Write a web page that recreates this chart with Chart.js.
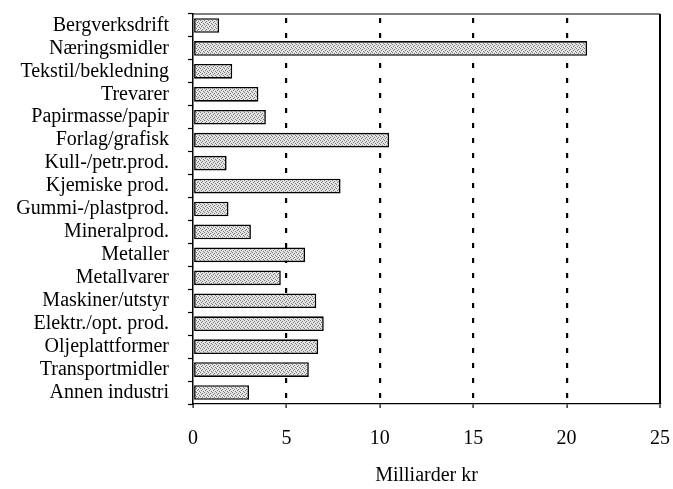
<!DOCTYPE html>
<html>
<head>
<meta charset="utf-8">
<script src="https://cdn.jsdelivr.net/npm/chart.js@4/dist/chart.umd.min.js"></script>
<style>
html,body{margin:0;padding:0;background:#fff;}
canvas{display:block;}
</style>
</head>
<body>
<canvas id="c" width="673" height="489"></canvas>
<script>
const categories = ["Bergverksdrift","Næringsmidler","Tekstil/bekledning","Trevarer","Papirmasse/papir","Forlag/grafisk","Kull-/petr.prod.","Kjemiske prod.","Gummi-/plastprod.","Mineralprod.","Metaller","Metallvarer","Maskiner/utstyr","Elektr./opt. prod.","Oljeplattformer","Transportmidler","Annen industri"];
const values = [1.4,21.1,2.1,3.5,3.9,10.5,1.8,7.9,1.9,3.1,6.0,4.7,6.6,7.0,6.7,6.2,3.0];
const xTicks = [0,5,10,15,20,25];
const axisTitle = "Milliarder kr";

function stipple(){
  const p = document.createElement('canvas');
  p.width = 4; p.height = 4;
  const g = p.getContext('2d');
  g.fillStyle = '#e4e4e4'; g.fillRect(0,0,4,4);
  g.fillStyle = '#7a7a7a';
  [[0,0],[2,1],[1,2],[3,3]].forEach(([x,y])=>g.fillRect(x,y,1,1));
  return g.createPattern(p,'repeat');
}
const FONT = "'Liberation Serif', 'Times New Roman', serif";

function noPad(s){ s.paddingLeft = 0; s.paddingRight = 0; s.paddingTop = 0; s.paddingBottom = 0; }

const frame = {
  id:'frame',
  afterDraw(chart){
    const {ctx, chartArea:a} = chart;
    ctx.save();
    ctx.strokeStyle = '#000';
    ctx.lineWidth = 1.2;
    ctx.beginPath();
    ctx.moveTo(a.left, a.top); ctx.lineTo(a.right, a.top);
    ctx.stroke();
    ctx.restore();
  }
};

new Chart(document.getElementById('c'), {
  type:'bar',
  data:{
    labels: categories,
    datasets:[{
      data: values,
      backgroundColor: stipple(),
      borderColor:'#000',
      borderWidth:1.6,
      borderSkipped:false,
      categoryPercentage:1,
      barPercentage:0.64
    }]
  },
  options:{
    indexAxis:'y',
    responsive:false,
    animation:false,
    layout:{padding:{top:14,right:13,left:0,bottom:0}},
    plugins:{legend:{display:false},tooltip:{enabled:false}},
    scales:{
      x:{
        min:0,max:25,
        afterBuildTicks(s){ s.ticks = xTicks.map(v=>({value:v})); },
        afterFit(s){ s.height = 85; noPad(s); },
        ticks:{color:'#000',font:{family:FONT,size:20},padding:19,maxRotation:0},
        grid:{
          color:(c)=> (c.tick && c.tick.value===0) ? 'rgba(0,0,0,0)' : '#000',
          lineWidth:(c)=> (c.tick && c.tick.value===25) ? 2 : 2.2,
          tickColor:'#000',tickLength:4,tickWidth:1.2
        },
        border:{
          display:true,color:'#000',width:1.2,
          dash:(c)=> (c.tick && c.tick.value===25) ? [] : [5,10],
          dashOffset:11
        },
        title:{display:true,text:axisTitle,color:'#000',font:{family:FONT,size:20},padding:{top:0,bottom:1}}
      },
      y:{
        afterFit(s){ s.width = 193; noPad(s); },
        ticks:{color:'#000',font:{family:FONT,size:20},padding:19,autoSkip:false},
        grid:{drawOnChartArea:false,offset:true,tickColor:'#000',tickLength:5,tickWidth:1.2,color:'#000'},
        border:{display:true,color:'#000',width:1.5}
      }
    }
  },
  plugins:[frame]
});
</script>
</body>
</html>
